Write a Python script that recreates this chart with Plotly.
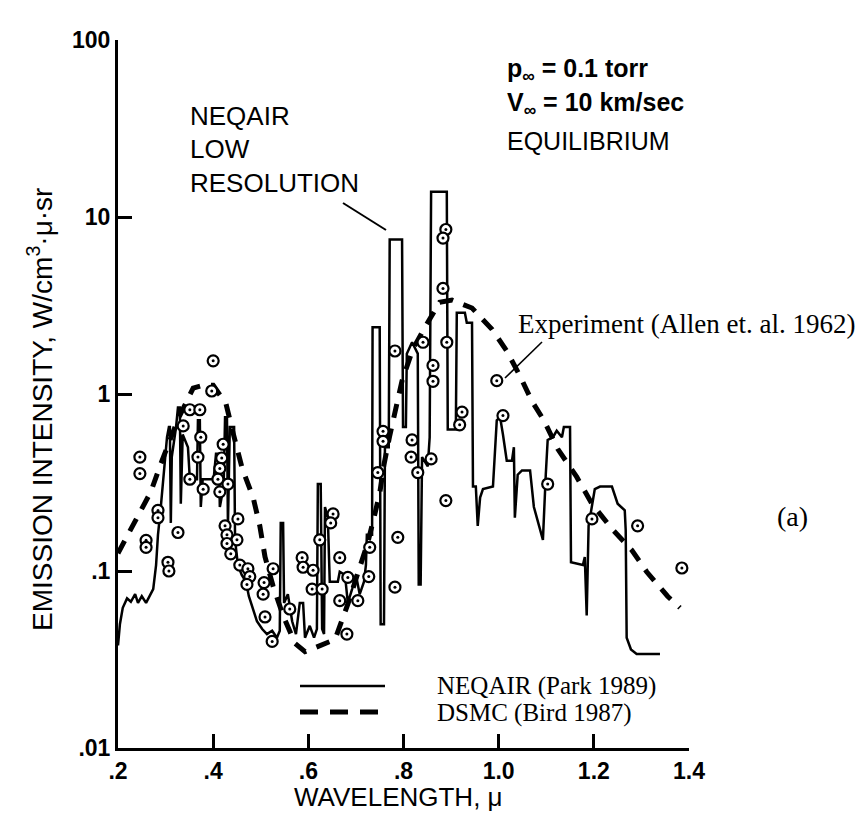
import plotly.graph_objects as go

# ---------------- data ----------------
neq_x = [0.200, 0.204, 0.210, 0.219, 0.227, 0.236, 0.242, 0.250, 0.259, 0.267,
         0.274, 0.280, 0.284, 0.290, 0.297, 0.303, 0.307, 0.309, 0.311, 0.313,
         0.322, 0.326, 0.330, 0.332, 0.336, 0.347, 0.351, 0.366, 0.368, 0.372,
         0.374, 0.378, 0.401, 0.406, 0.412, 0.414, 0.422, 0.425, 0.429, 0.431,
         0.435, 0.444, 0.446, 0.452, 0.460, 0.469, 0.475, 0.484, 0.492, 0.503,
         0.513, 0.524, 0.534, 0.540, 0.542, 0.547, 0.549, 0.557, 0.566, 0.574,
         0.582, 0.589, 0.593, 0.603, 0.612, 0.618, 0.620, 0.626, 0.629, 0.633,
         0.635, 0.641, 0.645, 0.662, 0.666, 0.677, 0.683, 0.692, 0.700, 0.708,
         0.717, 0.721, 0.723, 0.732, 0.734, 0.735, 0.750, 0.752, 0.759, 0.761,
         0.769, 0.771, 0.797, 0.799, 0.805, 0.807, 0.818, 0.830, 0.832, 0.836,
         0.839, 0.851, 0.855, 0.858, 0.891, 0.893, 0.910, 0.912, 0.929, 0.933,
         0.944, 0.946, 0.952, 0.956, 0.961, 0.967, 0.988, 0.996, 1.003, 1.009,
         1.017, 1.028, 1.032, 1.034, 1.040, 1.049, 1.066, 1.074, 1.093, 1.099,
         1.103, 1.114, 1.122, 1.133, 1.137, 1.150, 1.152, 1.177, 1.181, 1.185,
         1.189, 1.202, 1.213, 1.238, 1.250, 1.265, 1.267, 1.269, 1.278, 1.290,
         1.339]
neq_y = [0.038, 0.050, 0.062, 0.070, 0.067, 0.074, 0.066, 0.072, 0.066, 0.073,
         0.079, 0.108, 0.16, 0.23, 0.39, 0.57, 0.65, 0.65, 0.187, 0.44,
         0.65, 0.84, 0.84, 0.24, 0.59, 0.50, 0.33, 0.33, 0.71, 0.71,
         0.23, 0.33, 0.33, 0.46, 0.46, 0.23, 0.30, 0.74, 0.74, 0.18,
         0.65, 0.65, 0.15, 0.108, 0.095, 0.087, 0.072, 0.061, 0.052, 0.047,
         0.044, 0.046, 0.042, 0.046, 0.187, 0.187, 0.066, 0.074, 0.052, 0.044,
         0.066, 0.066, 0.042, 0.049, 0.042, 0.047, 0.31, 0.31, 0.047, 0.044,
         0.23, 0.20, 0.087, 0.087, 0.099, 0.095, 0.066, 0.079, 0.095, 0.074,
         0.087, 0.108, 0.16, 0.16, 0.16, 2.38, 2.38, 0.050, 0.050, 0.50,
         0.50, 7.46, 7.46, 0.65, 0.65, 1.69, 1.96, 1.69, 0.084, 0.084,
         0.44, 0.39, 0.57, 13.9, 13.9, 0.63, 0.63, 2.88, 2.88, 2.53,
         2.53, 0.30, 0.30, 0.18, 0.26, 0.29, 0.30, 0.71, 0.74, 0.59,
         0.42, 0.42, 0.50, 0.20, 0.35, 0.37, 0.37, 0.23, 0.15, 0.35,
         0.55, 0.57, 0.62, 0.57, 0.65, 0.65, 0.112, 0.108, 0.12, 0.056,
         0.18, 0.29, 0.30, 0.30, 0.24, 0.22, 0.17, 0.042, 0.036, 0.034,
         0.034]

dsmc_x = [0.200, 0.215, 0.240, 0.269, 0.288, 0.305, 0.326, 0.358, 0.379, 0.400,
          0.427, 0.442, 0.461, 0.484, 0.498, 0.509, 0.526, 0.547, 0.572, 0.593,
          0.624, 0.656, 0.683, 0.704, 0.725, 0.738, 0.750, 0.759, 0.771, 0.797,
          0.820, 0.845, 0.876, 0.902, 0.944, 0.986, 1.017, 1.045, 1.070, 1.095,
          1.124, 1.164, 1.196, 1.238, 1.280, 1.311, 1.355, 1.381]
dsmc_y = [0.126, 0.149, 0.20, 0.28, 0.39, 0.52, 0.72, 1.08, 1.12, 1.12,
          0.88, 0.60, 0.38, 0.26, 0.18, 0.12, 0.082, 0.056, 0.039, 0.035,
          0.038, 0.041, 0.065, 0.098, 0.145, 0.20, 0.275, 0.40, 0.58, 1.19,
          1.80, 2.38, 3.30, 3.39, 3.06, 2.32, 1.75, 1.26, 0.91, 0.71,
          0.49, 0.34, 0.24, 0.173, 0.131, 0.099, 0.072, 0.062]

exp_x = [0.246, 0.246, 0.259, 0.259, 0.284, 0.284, 0.305, 0.307, 0.326, 0.337,
         0.351, 0.372, 0.374, 0.368, 0.351, 0.379, 0.397, 0.400, 0.421, 0.418,
         0.414, 0.410, 0.431, 0.414, 0.452, 0.425, 0.429, 0.450, 0.429, 0.437,
         0.456, 0.473, 0.477, 0.471, 0.507, 0.505, 0.509, 0.524, 0.526, 0.561,
         0.587, 0.589, 0.610, 0.608, 0.629, 0.624, 0.652, 0.647, 0.666, 0.683,
         0.666, 0.704, 0.681, 0.727, 0.729, 0.788, 0.782, 0.757, 0.757, 0.746,
         0.782, 0.818, 0.816, 0.830, 0.858, 0.889, 0.862, 0.862, 0.841, 0.891,
         0.889, 0.883, 0.883, 0.923, 0.918, 0.996, 1.009, 1.103, 1.196, 1.292,
         1.385]
exp_y = [0.44, 0.355, 0.149, 0.136, 0.22, 0.20, 0.112, 0.10, 0.165, 0.66,
         0.815, 0.815, 0.57, 0.44, 0.33, 0.29, 1.04, 1.54, 0.52, 0.435,
         0.38, 0.33, 0.31, 0.28, 0.197, 0.18, 0.16, 0.15, 0.143, 0.125,
         0.108, 0.103, 0.093, 0.084, 0.086, 0.074, 0.055, 0.040, 0.103, 0.061,
         0.119, 0.105, 0.101, 0.079, 0.079, 0.15, 0.21, 0.187, 0.119, 0.092,
         0.068, 0.068, 0.044, 0.093, 0.136, 0.155, 0.081, 0.615, 0.54, 0.36,
         1.75, 0.55, 0.44, 0.36, 0.43, 0.25, 1.45, 1.18, 1.96, 1.96,
         8.5, 7.6, 3.95, 0.79, 0.67, 1.19, 0.755, 0.31, 0.197, 0.18,
         0.104]

x_ticks = [0.2, 0.4, 0.6, 0.8, 1.0, 1.2, 1.4]
x_tick_text = [".2", ".4", ".6", ".8", "1.0", "1.2", "1.4"]
y_ticks = [0.01, 0.1, 1, 10, 100]
y_tick_text = [".01", ".1", "1", "10", "100"]

# ---------------- layout helpers ----------------
W, H = 859, 825
L, R, T, B = 118, 170, 40, 77
PW, PH = W - L - R, H - T - B


def P(px, py):
    """pixel position -> paper coordinates"""
    return (px - L) / PW, (H - B - py) / PH


SANS = "Liberation Sans, Arial, sans-serif"
SERIF = "Liberation Serif, Times New Roman, serif"

fig = go.Figure()

fig.add_trace(go.Scatter(x=neq_x, y=neq_y, mode="lines",
                         line=dict(color="black", width=2.5),
                         showlegend=False, hoverinfo="skip"))
fig.add_trace(go.Scatter(x=dsmc_x, y=dsmc_y, mode="lines",
                         line=dict(color="black", width=5, dash="14px,11px"),
                         showlegend=False, hoverinfo="skip"))
fig.add_trace(go.Scatter(x=exp_x, y=exp_y, mode="markers",
                         marker=dict(symbol="circle", size=11, color="white",
                                     line=dict(color="black", width=2.2)),
                         showlegend=False, hoverinfo="skip"))
fig.add_trace(go.Scatter(x=exp_x, y=exp_y, mode="markers",
                         marker=dict(symbol="circle", size=3, color="black"),
                         showlegend=False, hoverinfo="skip"))

annotations = []


def text(px, py, s, size, family=SANS, xanchor="left", bold=False, angle=0):
    x, y = P(px, py)
    if bold:
        s = "<b>" + s + "</b>"
    annotations.append(dict(x=x, y=y, xref="paper", yref="paper", text=s,
                            showarrow=False, xanchor=xanchor, yanchor="middle",
                            textangle=angle,
                            font=dict(family=family, size=size, color="black")))


text(188, 116, "NEQAIR", 26)
text(188, 149, "LOW", 26)
text(188, 183, "RESOLUTION", 26)
text(505, 70, "p<sub>∞</sub> = 0.1 torr", 25, bold=True)
text(505, 104, "V<sub>∞</sub> = 10 km/sec", 25, bold=True)
text(505, 141, "EQUILIBRIUM", 25)
text(516, 324, "Experiment (Allen et. al. 1962)", 27, family=SERIF)
text(792, 516, "(a)", 28, family=SERIF, xanchor="center")
text(435, 686, "NEQAIR (Park 1989)", 25, family=SERIF)
text(435, 713, "DSMC (Bird 1987)", 25, family=SERIF)
text(398, 797, "WAVELENGTH, μ", 26, xanchor="center")
text(40, 410, "EMISSION INTENSITY, W/cm<sup>3</sup>·μ·sr", 28,
     xanchor="center", angle=-90)

shapes = []


def seg(p1, p2, width, dash="solid"):
    x0, y0 = P(*p1)
    x1, y1 = P(*p2)
    shapes.append(dict(type="line", xref="paper", yref="paper",
                       x0=x0, y0=y0, x1=x1, y1=y1,
                       line=dict(color="black", width=width, dash=dash)))


seg((343, 203), (386, 230), 2)          # NEQAIR pointer
seg((542, 342), (505, 378), 1.6)        # Experiment pointer
seg((300, 686), (385, 686), 2.5)        # legend solid
seg((300, 712), (385, 712), 5, "18px,12px")  # legend dashed

fig.update_layout(
    width=W, height=H,
    margin=dict(l=L, r=R, t=T, b=B),
    paper_bgcolor="white", plot_bgcolor="white",
    annotations=annotations, shapes=shapes,
    xaxis=dict(range=[0.2, 1.4], tickvals=x_ticks,
               ticktext=["<b>" + t + "</b>" for t in x_tick_text],
               ticks="inside", ticklen=14, tickwidth=2.5, tickcolor="black",
               showline=True, linecolor="black", linewidth=3,
               showgrid=False, zeroline=False,
               tickfont=dict(family=SANS, size=23, color="black")),
    yaxis=dict(type="log", range=[-2, 2], tickvals=y_ticks,
               ticktext=["<b>" + t + "</b>" for t in y_tick_text],
               ticks="inside", ticklen=14, tickwidth=2.5, tickcolor="black",
               showline=True, linecolor="black", linewidth=3,
               showgrid=False, zeroline=False,
               tickfont=dict(family=SANS, size=23, color="black")),
)

fig.write_html("out.html")
